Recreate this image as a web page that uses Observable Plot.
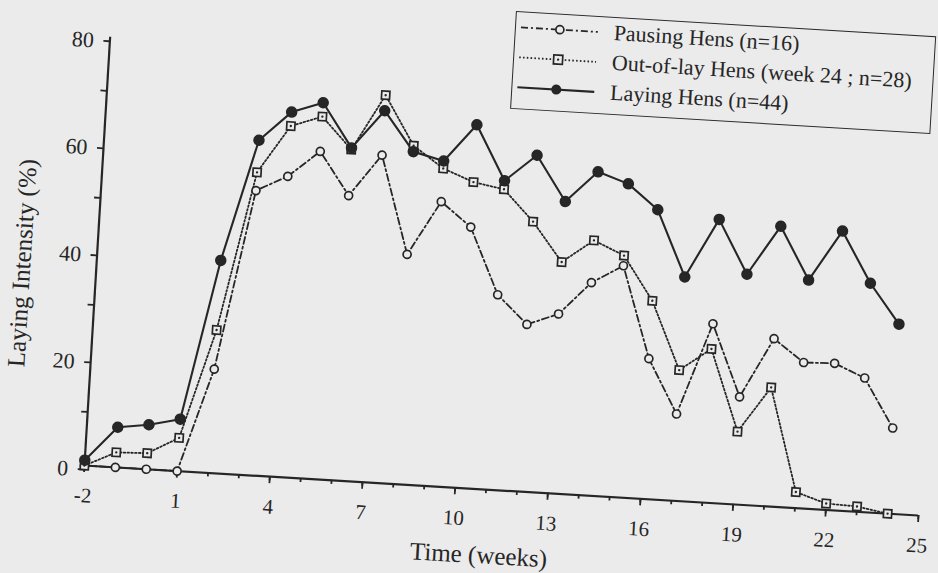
<!DOCTYPE html>
<html>
<head>
<meta charset="utf-8">
<script src="https://cdn.jsdelivr.net/npm/d3@7"></script>
<script src="https://cdn.jsdelivr.net/npm/@observablehq/plot@0.6"></script>
<style>
  html, body { margin: 0; padding: 0; width: 938px; height: 573px; overflow: hidden; background: #ebebeb; }
  #wrap {
    position: absolute; left: 0; top: -30px; width: 938px; height: 600px;
    transform-origin: 84px 495px; transform: rotate(3.43deg);
    font-family: "Liberation Serif", "Times New Roman", serif; color: #262626;
  }
  #wrap svg.chart { position: absolute; left: 0; top: 0; overflow: visible; }
  #legend {
    position: absolute; left: 488px; top: 16px; width: 421px; height: 98px;
    border: 1.8px solid #2a2a2a; box-sizing: border-box;
  }
  .row { position: absolute; left: 0; height: 30px; display: flex; align-items: center; white-space: nowrap; }
  .row svg { width: 92px; height: 30px; flex: none; }
  .row span { font-size: 22px; margin-left: 6px; line-height: 30px; }
</style>
</head>
<body>
<div id="wrap"><div id="legend"></div></div>
<script>
// ---- data ----
const weeks = [-2, -1, 0, 1, 2, 3, 4, 5, 6, 7, 8, 9, 10, 11, 12, 13, 14, 15, 16, 17, 18, 19, 20, 21, 22, 23, 24];
const pausing = [0, 0, 0, 0, 19.4, 53.1, 56.1, 61.1, 53.2, 61.1, 42.9, 53.1, 48.7, 36.4, 31.2, 33.5, 39.7, 43.2, 26.2, 16.2, 33.4, 20.1, 31.3, 27.2, 27.4, 25.0, 16.0];
const outOfLay = [0, 2.8, 3.0, 6.2, 26.7, 56.5, 65.5, 67.6, 61.8, 72.3, 63.2, 59.3, 57.1, 56.1, 50.4, 43.2, 47.6, 45.1, 37.0, 24.4, 28.7, 13.6, 22.2, 3.0, 1.2, 1.0, 0.0];
const laying = [1, 7.5, 8.3, 9.7, 39.7, 62.5, 68.1, 70.2, 62.1, 69.4, 62.1, 60.7, 67.8, 57.7, 62.8, 54.5, 60.4, 58.5, 54.0, 41.8, 52.9, 43.0, 52.3, 42.6, 52.1, 42.7, 35.4];
const seriesNames = ["Pausing Hens (n=16)", "Out-of-lay Hens (week 24 ; n=28)", "Laying Hens (n=44)"];
const xTickLabels = [-2, 1, 4, 7, 10, 13, 16, 19, 22, 25];
const xMinorTicks = [-2, -1, 0, 1, 2, 3, 4, 5, 6, 7, 8, 9, 10, 11, 12, 13, 14, 15, 16, 17, 18, 19, 20, 21, 22, 23, 24, 25];
const yTickLabels = [0, 20, 40, 60, 80];
const yMinorTicks = [10, 30, 50, 70];
const xTitle = "Time (weeks)";
const yTitle = "Laying Intensity (%)";

const ink = "#262626";
const paper = "#ebebeb";
const rows = vals => weeks.map((w, i) => ({week: w, value: vals[i]}));
const P = rows(pausing), O = rows(outOfLay), L = rows(laying);

const chart = Plot.plot({
  width: 938, height: 600,
  marginLeft: 84, marginRight: 18.5, marginTop: 66, marginBottom: 105,
  x: {domain: [-2, 25]},
  y: {domain: [0, 80]},
  style: {background: "transparent", fontFamily: "'Liberation Serif', 'Times New Roman', serif", fontSize: "21px", color: ink, overflow: "visible"},
  marks: [
    Plot.ruleY([0], {stroke: ink, strokeWidth: 2.2}),
    Plot.ruleX([-2], {stroke: ink, strokeWidth: 2.2}),
    Plot.axisX({ticks: xMinorTicks, tickSize: 4, tickFormat: () => "", label: null, stroke: ink, strokeWidth: 1.8}),
    Plot.axisX({ticks: xTickLabels, tickSize: 7, tickPadding: 15, tickFormat: d => String(d), label: null, fontSize: 21, stroke: ink, strokeWidth: 1.8}),
    Plot.axisY({ticks: yMinorTicks, tickSize: 6, tickFormat: () => "", label: null, stroke: ink, strokeWidth: 1.8}),
    Plot.axisY({ticks: yTickLabels, tickSize: 6, tickPadding: 10, tickFormat: d => String(d), label: null, fontSize: 22, dy: 4, stroke: ink, strokeWidth: 1.8}),
    Plot.text([xTitle], {text: d => d, frameAnchor: "bottom", lineAnchor: "middle", textAnchor: "middle", dx: -19, dy: 66, fontSize: 25, fill: ink}),
    Plot.text([yTitle], {text: d => d, frameAnchor: "left", lineAnchor: "middle", textAnchor: "middle", rotate: -90, dx: -74, dy: 16, fontSize: 25, fill: ink}),
    Plot.line(P, {x: "week", y: "value", stroke: ink, strokeWidth: 1.8, strokeDasharray: "7,3,2,3"}),
    Plot.line(O, {x: "week", y: "value", stroke: ink, strokeWidth: 1.8, strokeDasharray: "1.6,2.2"}),
    Plot.line(L, {x: "week", y: "value", stroke: ink, strokeWidth: 2.1}),
    Plot.dot(P, {x: "week", y: "value", r: 4, fill: paper, stroke: ink, strokeWidth: 1.7}),
    Plot.dot(O, {x: "week", y: "value", symbol: "square", r: 4.6, fill: paper, stroke: ink, strokeWidth: 1.7}),
    Plot.dot(O, {x: "week", y: "value", r: 1.2, fill: ink}),
    Plot.dot(L, {x: "week", y: "value", r: 5, fill: ink, stroke: ink})
  ]
});
chart.classList.add("chart");
const wrap = document.getElementById("wrap");
wrap.insertBefore(chart, wrap.firstChild);

// ---- legend ----
const swatches = [
  `<line x1="5" y1="15" x2="82" y2="15" stroke="${ink}" stroke-width="1.8" stroke-dasharray="7,3,2,3"/><circle cx="44" cy="15" r="4" fill="${paper}" stroke="${ink}" stroke-width="1.7"/>`,
  `<line x1="5" y1="15" x2="82" y2="15" stroke="${ink}" stroke-width="1.8" stroke-dasharray="1.6,2.2"/><rect x="39.5" y="10.5" width="9" height="9" fill="${paper}" stroke="${ink}" stroke-width="1.7"/><circle cx="44" cy="15" r="1.2" fill="${ink}"/>`,
  `<line x1="5" y1="15" x2="82" y2="15" stroke="${ink}" stroke-width="2.1"/><circle cx="44" cy="15" r="5" fill="${ink}"/>`
];
const legend = document.getElementById("legend");
seriesNames.forEach((name, i) => {
  const row = document.createElement("div");
  row.className = "row";
  row.style.top = (i * 30) + "px";
  row.innerHTML = `<svg viewBox="0 0 92 30">${swatches[i]}</svg><span>${name}</span>`;
  legend.appendChild(row);
});
</script>
</body>
</html>
